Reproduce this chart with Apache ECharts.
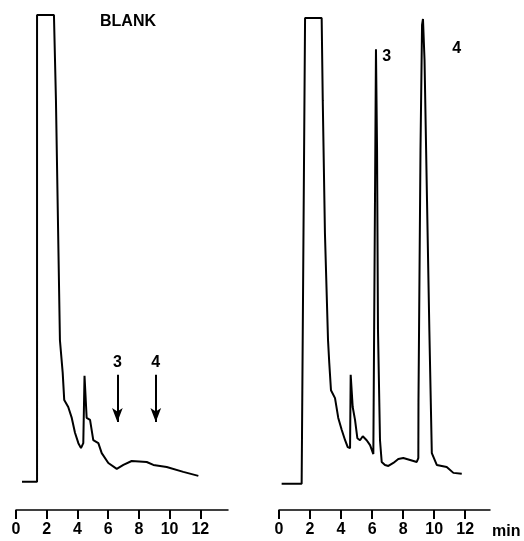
<!DOCTYPE html>
<html>
<head>
<meta charset="utf-8">
<script src="https://cdn.jsdelivr.net/npm/echarts@6/dist/echarts.min.js"></script>
<style>
html, body { margin: 0; padding: 0; background: #fff; }
#chart { width: 524px; height: 541px; }
</style>
</head>
<body>
<div id="chart"></div>
<script>
// 保留时间 (min) / 信号, 左 = 空白样品
var blankTime = [0.39, 1.37, 1.37, 2.47, 2.6, 2.86, 3.04, 3.14, 3.40, 3.63, 3.84, 4.06, 4.23, 4.38, 4.46, 4.52, 4.60, 4.82, 5.03, 5.36, 5.58, 6.01, 6.56, 6.99, 7.53, 8.51, 8.94, 9.81, 10.89, 11.87];
var blankSignal = [5.7, 5.7, 100, 100, 82.8, 34.3, 27.7, 22.2, 20.8, 18.6, 15.6, 13.5, 12.5, 13.5, 27.1, 27.1, 18.6, 18.2, 14.1, 13.5, 11.5, 9.5, 8.3, 9.1, 9.9, 9.7, 9.1, 8.7, 7.7, 6.9];

// 右 = 样品
var sampleTime = [0.17, 1.46, 1.58, 1.68, 2.75, 2.82, 2.96, 3.16, 3.24, 3.35, 3.61, 3.82, 4.04, 4.26, 4.43, 4.58, 4.62, 4.75, 4.90, 5.05, 5.22, 5.40, 5.65, 5.87, 6.08, 6.19, 6.25, 6.32, 6.38, 6.51, 6.62, 6.83, 7.05, 7.37, 7.69, 8.01, 8.45, 8.88, 8.98, 8.99, 9.12, 9.22, 9.28, 9.38, 9.54, 9.69, 9.85, 10.17, 10.81, 11.24, 11.78];
var sampleSignal = [5.3, 5.3, 5.3, 99.4, 99.4, 82.8, 56, 34.3, 29.7, 24.2, 22.6, 18.6, 16.2, 14.1, 12.7, 12.5, 27.3, 20.8, 18.2, 14.5, 14.1, 14.9, 14.1, 13.1, 11.3, 11.1, 93.1, 72.7, 36.4, 14.1, 9.7, 9.1, 8.9, 9.5, 10.3, 10.5, 10.1, 9.7, 10.5, 22.2, 72.7, 98, 99.2, 90.9, 62.6, 36.4, 11.5, 9.1, 8.7, 7.5, 7.3];

var xTicks = [0, 2, 4, 6, 8, 10, 12];
var arrowNames = ['3', '4'];
var arrowTime = [6.6, 9.1];      // 空白中 3、4 的预期位置
var arrowFrom = 27.3, arrowTo = 17.8;
var peakNames = ['3', '4'];
var peakLabelTime = [6.94, 11.46];
var peakLabelSignal = [91.5, 93.3];

function pairs(xs, ys) {
	var out = [];
	for (var i = 0; i < xs.length; i++) out.push([xs[i], ys[i]]);
	return out;
}

var font = "'Liberation Sans', Arial, sans-serif";

function xAxisOf(idx, max, withName) {
	var ax = {
		type: 'value',
		gridIndex: idx,
		min: 0,
		max: max,
		axisLine: { lineStyle: { color: '#000', width: 1.5 } },
		axisTick: { length: 9, lineStyle: { color: '#000', width: 2 }, customValues: xTicks },
		axisLabel: { customValues: xTicks, margin: 12, color: '#000', fontSize: 16, fontWeight: 'bold', fontFamily: font },
		splitLine: { show: false }
	};
	if (withName) {
		ax.name = 'min';
		ax.nameLocation = 'end';
		ax.nameGap = 2;
		ax.nameTextStyle = { color: '#000', fontSize: 16, fontWeight: 'bold', fontFamily: font, align: 'left', verticalAlign: 'top', padding: [14, 0, 0, 0] };
	}
	return ax;
}

var arrowData = [];
for (var i = 0; i < arrowTime.length; i++) {
	arrowData.push([
		{ coord: [arrowTime[i], arrowFrom], name: arrowNames[i] },
		{ coord: [arrowTime[i], arrowTo] }
	]);
}
var peakData = [];
for (var j = 0; j < peakNames.length; j++) {
	peakData.push({ coord: [peakLabelTime[j], peakLabelSignal[j]], name: peakNames[j] });
}

var myChart = echarts.init(document.getElementById('chart'));
var option = {
	animation: false,
	backgroundColor: '#fff',
	title: {
		text: 'BLANK',
		left: 128,
		top: 14,
		textAlign: 'center',
		padding: 0,
		textStyle: { color: '#000', fontSize: 16, fontWeight: 'bold', fontFamily: font }
	},
	grid: [
		{ left: 16, width: 212, top: 15, height: 495 },
		{ left: 279, width: 211, top: 15, height: 495 }
	],
	xAxis: [xAxisOf(0, 13.8, false), xAxisOf(1, 13.6, true)],
	yAxis: [
		{ type: 'value', gridIndex: 0, min: 0, max: 100, show: false },
		{ type: 'value', gridIndex: 1, min: 0, max: 100, show: false }
	],
	series: [{
		type: 'line',
		xAxisIndex: 0,
		yAxisIndex: 0,
		data: pairs(blankTime, blankSignal),
		showSymbol: false,
		lineStyle: { color: '#000', width: 2 },
		markLine: {
			silent: true,
			symbol: ['none', 'arrow'],
			symbolSize: [8, 14],
			lineStyle: { color: '#000', width: 2, type: 'solid' },
			label: { show: true, position: 'start', formatter: '{b}', distance: 4, color: '#000', fontSize: 16, fontWeight: 'bold', fontFamily: font },
			data: arrowData
		}
	}, {
		type: 'line',
		xAxisIndex: 1,
		yAxisIndex: 1,
		data: pairs(sampleTime, sampleSignal),
		showSymbol: false,
		lineStyle: { color: '#000', width: 2 },
		markPoint: {
			silent: true,
			symbol: 'rect',
			symbolSize: 1,
			itemStyle: { color: 'rgba(0,0,0,0)' },
			label: { show: true, position: 'inside', formatter: '{b}', color: '#000', fontSize: 16, fontWeight: 'bold', fontFamily: font },
			data: peakData
		}
	}]
};
myChart.setOption(option);
</script>
</body>
</html>
